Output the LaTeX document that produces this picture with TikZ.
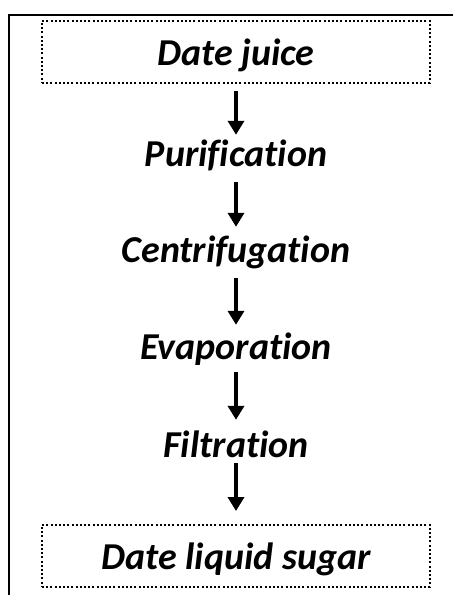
\documentclass[tikz,border=0pt]{standalone}
\usepackage{fontspec}
\setmainfont[Ligatures=NoCommon]{Carlito}
\usetikzlibrary{arrows.meta}

\tikzset{
 stage/.style={anchor=base, inner sep=0pt, text height=27pt, text depth=9pt,
   font=\fontsize{38}{44}\selectfont\bfseries\itshape},
 endbox/.style={stage, draw, line width=2pt, dash pattern=on 2pt off 2.2pt,
   text height=34pt, text depth=8pt, inner ysep=10pt, minimum width=388pt},
 flow/.style={line width=4.5pt, -{Triangle[width=16pt,length=14pt]},
   shorten <=7pt, shorten >=7pt}
}

\begin{document}
\begin{tikzpicture} [x=1pt,y=-1pt]
 \useasboundingbox (0,0) rectangle (453,595);
 \draw [line width=2pt] (453,14.5) -- (9,14.5) -- (9,595);
 \draw (236,65) node [endbox] (juice) {Date juice};
 \draw (236,166) node [stage] (purif) {Purification};
 \draw (236,262) node [stage] (centr) {Centrifugation};
 \draw (236,359) node [stage] (evap) {Evaporation};
 \draw (236,457) node [stage] (filt) {Filtration};
 \draw (236,569) node [endbox] (sugar) {Date liquid sugar};
 \draw [flow, shorten >=4pt] (juice) -- (purif);
 \draw [flow, shorten >=8pt] (purif) -- (centr);
 \draw [flow] (centr) -- (evap);
 \draw [flow, shorten <=4pt, shorten >=10pt] (evap) -- (filt);
 \draw [flow, shorten <=-3pt, shorten >=13pt] (filt) -- (sugar);
\end{tikzpicture}
\end{document}
